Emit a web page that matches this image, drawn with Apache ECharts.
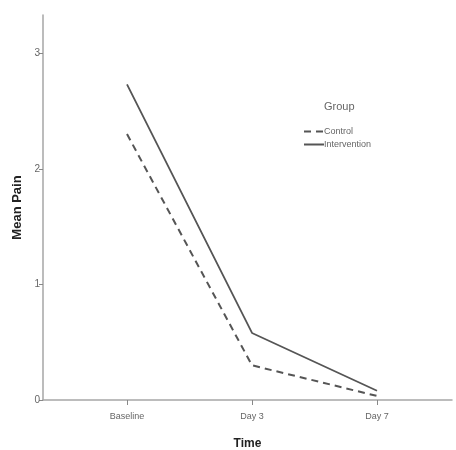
<!DOCTYPE html>
<html>
<head>
<meta charset="utf-8">
<script src="https://cdn.jsdelivr.net/npm/echarts@6/dist/echarts.min.js"></script>
<style>
html, body { margin: 0; padding: 0; background: #fff; }
#chart { width: 456px; height: 450px; }
</style>
</head>
<body>
<div id="chart"></div>
<script>
var categories = ['Baseline', 'Day 3', 'Day 7'];
var control = [2.30, 0.30, 0.035];
var intervention = [2.73, 0.58, 0.08];
var yTicks = [0, 1, 2, 3];

// x positions 1..n for the categories
var xPos = [];
for (var i = 0; i < categories.length; i++) {
    xPos.push(i + 1);
}
function pairs(vals) {
    var out = [];
    for (var i = 0; i < vals.length; i++) {
        out.push([xPos[i], vals[i]]);
    }
    return out;
}

var axisColor = '#a6a6a6';
var textColor = '#666';
var lineColor = '#555';

var myChart = echarts.init(document.getElementById('chart'));
var option = {
    animation: false,
    backgroundColor: '#fff',
    title: {
        text: 'Group',
        left: 319,
        top: 96,
        textStyle: { fontSize: 11, fontWeight: 'normal', color: textColor, fontFamily: 'Liberation Sans' }
    },
    legend: {
        orient: 'vertical',
        left: 298,
        top: 122,
        itemWidth: 20,
        itemHeight: 8,
        itemGap: 4,
        itemStyle: { opacity: 0 },
        textStyle: { fontSize: 9, color: textColor, fontFamily: 'Liberation Sans', padding: [0, 0, 0, -5] },
        data: ['Control', 'Intervention']
    },
    grid: {
        left: 43,
        top: 15,
        right: 4,
        bottom: 50,
        outerBoundsMode: 'none'
    },
    xAxis: {
        type: 'value',
        min: 0.328,
        max: 3.6,
        name: 'Time',
        nameLocation: 'middle',
        nameGap: 38,
        nameTextStyle: { fontSize: 12, fontWeight: 'bold', color: '#222', fontFamily: 'Liberation Sans' },
        splitLine: { show: false },
        axisLine: { lineStyle: { color: axisColor, width: 1.5 } },
        axisTick: { customValues: xPos, length: 5, lineStyle: { color: '#888' } },
        axisLabel: {
            customValues: xPos,
            fontSize: 9,
            color: textColor,
            fontFamily: 'Liberation Sans',
            margin: 12,
            formatter: function (v) {
                return categories[Math.round(v) - 1] || '';
            }
        }
    },
    yAxis: {
        type: 'value',
        min: 0,
        max: 3.33,
        name: 'Mean Pain',
        nameLocation: 'middle',
        nameGap: 11,
        nameTextStyle: { fontSize: 13, fontWeight: 'bold', color: '#222', fontFamily: 'Liberation Sans' },
        splitLine: { show: false },
        axisLine: { show: true, lineStyle: { color: axisColor, width: 1.5 } },
        axisTick: { show: true, customValues: yTicks, length: 4, lineStyle: { color: '#888' } },
        axisLabel: { customValues: yTicks, fontSize: 10, color: textColor, fontFamily: 'Liberation Sans', margin: 3 }
    },
    series: [
        {
            name: 'Control',
            type: 'line',
            data: pairs(control),
            symbol: 'none',
            lineStyle: { color: lineColor, width: 2, type: [7, 5] },
            itemStyle: { color: lineColor }
        },
        {
            name: 'Intervention',
            type: 'line',
            data: pairs(intervention),
            symbol: 'none',
            lineStyle: { color: lineColor, width: 1.8 },
            itemStyle: { color: lineColor }
        }
    ]
};
myChart.setOption(option);
</script>
</body>
</html>
